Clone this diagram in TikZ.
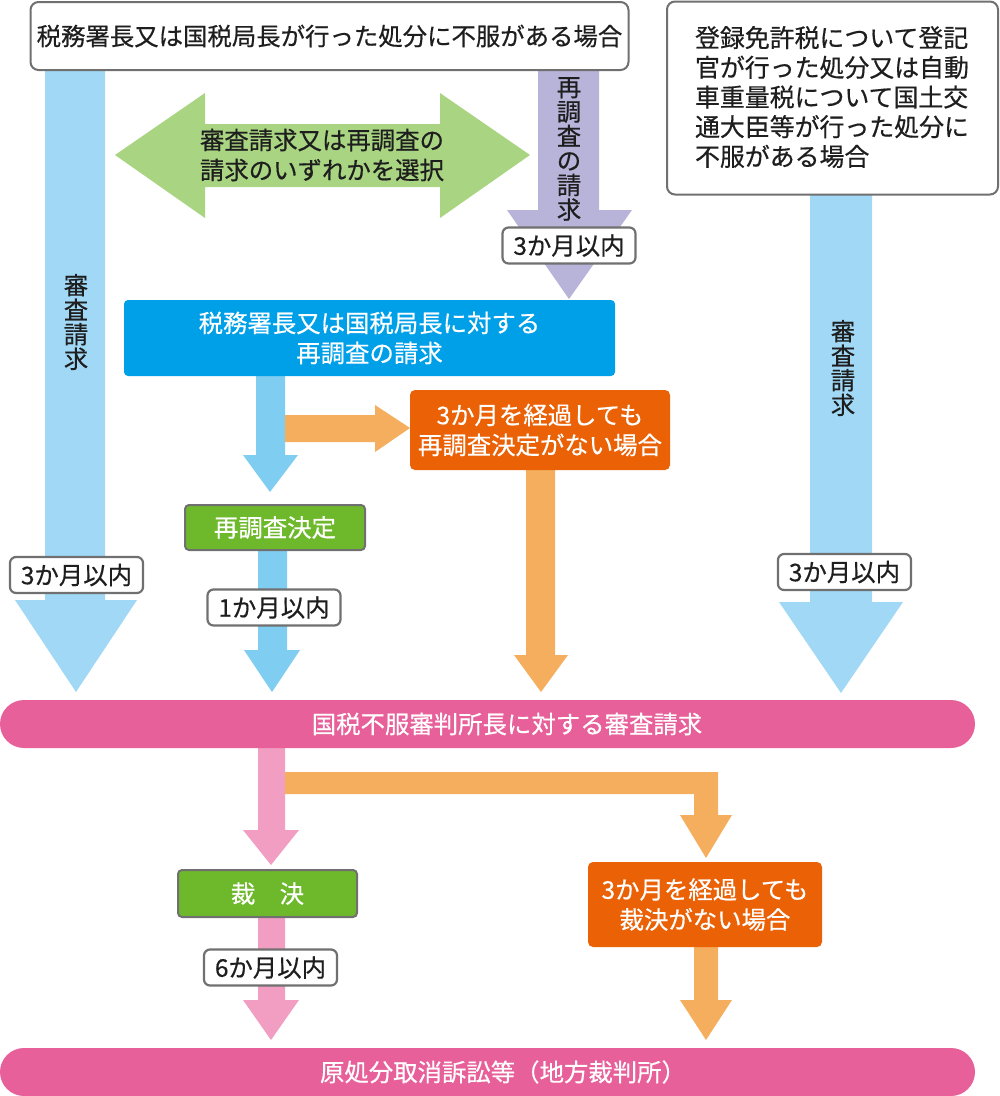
\documentclass[tikz,border=0pt]{standalone}
\usepackage{fontspec}
\setmainfont{Noto Sans CJK JP}[FakeBold=0.5]
\definecolor{boxgray}{HTML}{707070}
\definecolor{txtdark}{HTML}{1E1E1E}
\definecolor{arrowblue}{HTML}{A0D8F5}
\definecolor{arrowbluemid}{HTML}{80CDF2}
\definecolor{arrowpurple}{HTML}{B8B3D9}
\definecolor{arrowgreen}{HTML}{A9D482}
\definecolor{boxblue}{HTML}{00A0E9}
\definecolor{boxorange}{HTML}{EA6106}
\definecolor{arroworange}{HTML}{F5AE5E}
\definecolor{boxgreen}{HTML}{6EB92B}
\definecolor{barpink}{HTML}{E8609A}
\definecolor{arrowpink}{HTML}{F19EC2}
\newcommand\jpfont{\fontsize{24.4}{30}\selectfont}
\newcommand\rbfont{\fontsize{24.9}{29.7}\selectfont}
\newcommand\vfont{\fontsize{24.4}{24.5}\selectfont}
\tikzset{
  topbox/.style={draw=boxgray, line width=2pt, rounded corners=8pt, fill=white, text=txtdark, inner sep=0pt},
  lbl/.style={draw=boxgray, line width=2.2pt, rounded corners=6pt, fill=white, text=txtdark,
              minimum width=133pt, minimum height=36pt, inner sep=0pt},
  gbox/.style={draw=boxgray, line width=2pt, rounded corners=4pt, fill=boxgreen, text=white, inner sep=0pt},
  obox/.style={fill=boxorange, rounded corners=5pt, text=white, align=center, inner sep=0pt},
  bbox/.style={fill=boxblue, rounded corners=4pt, text=white, align=center, inner sep=0pt},
  bar/.style={fill=barpink, rounded corners=24pt, inner sep=0pt},
  bartext/.style={text=white, inner sep=0pt},
  vtext/.style={align=center, font=\vfont, text=txtdark, inner sep=0pt}
}
\begin{document}
\begin{tikzpicture}[x=1pt,y=-1pt,font=\jpfont]
\useasboundingbox (0,0) rectangle (1000,1096);

% ---- block arrows ----
% left blue (審査請求)
\fill[arrowblue] (45,70) -- (105,70) -- (105,600) -- (137,600) -- (76,692) -- (15,600) -- (45,600) -- cycle;
% right blue (審査請求)
\fill[arrowblue] (810,195) -- (872,195) -- (872,602) -- (903,602) -- (841,693) -- (779,602) -- (810,602) -- cycle;
% purple (再調査の請求)
\fill[arrowpurple] (538,70) -- (599,70) -- (599,210) -- (632,210) -- (569,299) -- (507,210) -- (538,210) -- cycle;
% green double arrow
\fill[arrowgreen] (115,155) -- (205,93) -- (205,124) -- (440,124) -- (440,93) -- (530,155)
   -- (440,218) -- (440,187) -- (205,187) -- (205,218) -- cycle;
% middle blue
\fill[arrowbluemid] (256,376) -- (285,376) -- (285,455) -- (298,455) -- (270,492) -- (243,455) -- (256,455) -- cycle;
\fill[arrowbluemid] (258,550) -- (287,550) -- (287,650) -- (300,650) -- (272,692) -- (244,650) -- (258,650) -- cycle;
% orange: to box 1
\fill[arroworange] (285,415) -- (375,415) -- (375,405) -- (410,428) -- (375,452) -- (375,442) -- (285,442) -- cycle;
% orange: down from box 1
\fill[arroworange] (526,470) -- (555,470) -- (555,655) -- (568,655) -- (541,692) -- (514,655) -- (526,655) -- cycle;
% pink arrows
\fill[arrowpink] (258,748) -- (285,748) -- (285,830) -- (299,830) -- (271,865) -- (243,830) -- (258,830) -- cycle;
\fill[arrowpink] (258,917) -- (285,917) -- (285,1000) -- (299,1000) -- (271,1040) -- (243,1000) -- (258,1000) -- cycle;
% orange elbow
\fill[arroworange] (285,772) -- (718,772) -- (718,815) -- (732,815) -- (706,858) -- (680,815) -- (694,815)
   -- (694,794) -- (285,794) -- cycle;
% orange: down from box 2
\fill[arroworange] (694,947) -- (718,947) -- (718,1000) -- (732,1000) -- (706,1040) -- (680,1000) -- (694,1000) -- cycle;

% ---- boxes ----
\node[topbox, minimum width=598pt, minimum height=68pt] (top1) at (329.5,36)
  {税務署長又は国税局長が行った処分に不服がある場合};
\node[topbox, minimum width=331pt, minimum height=193pt] (top2) at (832.5,98) {};
\node[align=left, font=\rbfont, text=txtdark, inner sep=0pt] (top2txt) at (832,97)
  {登録免許税について登記\\官が行った処分又は自動\\車重量税について国土交\\通大臣等が行った処分に\\不服がある場合};

\node[bbox, minimum width=491pt, minimum height=76pt] (reinv) at (369.5,338)
  {税務署長又は国税局長に対する\\再調査の請求};
\node[obox, minimum width=260pt, minimum height=80pt] (nodec1) at (540,430)
  {3か月を経過しても\\再調査決定がない場合};
\node[gbox, minimum width=180pt, minimum height=45pt] (redec) at (275,527.5) {再調査決定};

\node[bar, minimum width=975pt, minimum height=48pt] (tribunal) at (487.5,724) {};
\node[bartext] (tribunaltxt) at (507,724) {国税不服審判所長に対する審査請求};

\node[gbox, minimum width=179pt, minimum height=47pt] (decision) at (267.5,893.5) {裁\hspace{1em}決};
\node[obox, minimum width=234pt, minimum height=85pt] (nodec2) at (705,904.5)
  {3か月を経過しても\\裁決がない場合};

\node[bar, minimum width=975pt, minimum height=48pt] (court) at (487.5,1072) {};
\node[bartext] (courttxt) at (503,1072) {原処分取消訴訟等（地方裁判所）};

% ---- vertical labels ----
\node[vtext] (vleft) at (76,322) {審\\査\\請\\求};
\node[vtext] (vright) at (843,368) {審\\査\\請\\求};
\node[vtext] (vpurple) at (569,149) {再\\調\\査\\の\\請\\求};
\node[align=center, text=txtdark, inner sep=0pt] (choose) at (322,155)
  {審査請求又は再調査の\\請求のいずれかを選択};

% ---- period labels ----
\node[lbl] (l1) at (76.5,575) {3か月以内};
\node[lbl] (l2) at (569,245.5) {3か月以内};
\node[lbl] (l3) at (844.5,572) {3か月以内};
\node[lbl] (l4) at (274,607.5) {1か月以内};
\node[lbl] (l5) at (270.5,967.5) {6か月以内};
\end{tikzpicture}
\end{document}
